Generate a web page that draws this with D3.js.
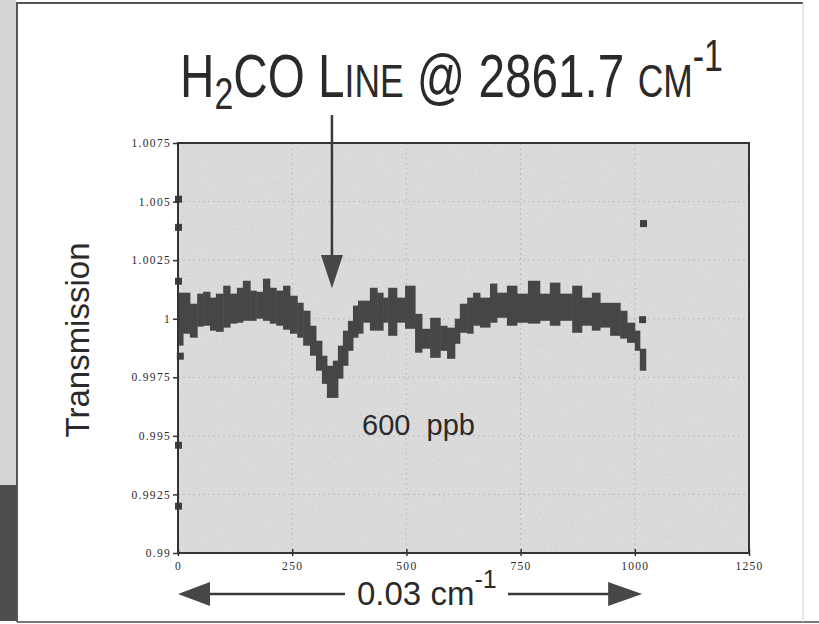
<!DOCTYPE html>
<html lang="en">
<head>
<meta charset="UTF-8">
<title>H2CO line transmission</title>
<script src="https://d3js.org/d3.v7.min.js"></script>
<style>
  body { margin: 0; background: #fff; }
  svg { display: block; }
  .tick text { font-family: "Liberation Serif", "Times New Roman", serif; font-size: 11.5px; fill: #2a2a2a; letter-spacing: 1.3px; }
  .tick line { stroke: #333; stroke-width: 1.5; }
  .big { font-family: "Liberation Sans", Arial, sans-serif; fill: #2a2a2a; }
</style>
</head>
<body>
<div id="chart"></div>
<script>
// trace: column i runs from colX[i] to colX[i+1], between colLo[i] and colHi[i]
var colX = [0, 11, 26, 42, 55, 70, 83, 99, 114, 129, 142, 158, 171, 186, 201, 215, 230, 245, 261, 274,
    289, 302, 315, 326, 339, 350, 361, 372, 383, 394, 405, 420, 436, 449, 460, 479, 497, 519, 534, 552,
    574, 589, 606, 617, 633, 646, 661, 683, 698, 720, 742, 766, 792, 814, 836, 863, 884, 906, 924, 946,
    968, 983, 1000, 1011, 1024];
var colHi = [1.00111, 1.00111, 1.00064, 1.00107, 1.00115, 1.00090, 1.00107, 1.00141, 1.00107, 1.00132,
    1.00162, 1.00120, 1.00115, 1.00171, 1.00132, 1.00120, 1.00141, 1.00098, 1.00068, 1.00034,
    0.99970, 0.99906, 0.99842, 0.99799, 0.99821, 0.99885, 0.99949, 0.99991, 1.00056, 1.00077,
    1.00077, 1.00132, 1.00111, 1.00090, 1.00132, 1.00090, 1.00141, 1.00021, 0.99957, 1.00004,
    0.99970, 0.99962, 1.00000, 1.00064, 1.00090, 1.00111, 1.00090, 1.00150, 1.00111, 1.00141,
    1.00107, 1.00162, 1.00107, 1.00154, 1.00107, 1.00141, 1.00090, 1.00111, 1.00068, 1.00068,
    1.00034, 0.99983, 0.99949, 0.99872];
var colLo = [0.99885, 0.99936, 0.99919, 0.99966, 0.99970, 0.99949, 0.99944, 0.99962, 0.99979, 0.99983,
    0.99991, 0.99991, 1.00000, 0.99991, 0.99979, 0.99970, 0.99953, 0.99936, 0.99919, 0.99885,
    0.99842, 0.99778, 0.99722, 0.99662, 0.99662, 0.99744, 0.99799, 0.99863, 0.99919, 0.99936,
    0.99983, 0.99949, 0.99949, 0.99983, 0.99927, 0.99983, 0.99957, 0.99855, 0.99872, 0.99833,
    0.99863, 0.99829, 0.99893, 0.99940, 0.99936, 0.99970, 0.99962, 0.99983, 1.00004, 0.99970,
    0.99983, 0.99979, 0.99991, 0.99970, 0.99991, 0.99940, 0.99970, 0.99949, 0.99962, 0.99927,
    0.99915, 0.99897, 0.99863, 0.99778];
// lone points away from the trace
var strayX = [0, 0, 0, 0, 0, 4, 1016, 1018];
var strayY = [1.0051, 1.0039, 1.0016, 0.9946, 0.9920, 0.9984, 0.99996, 1.00406];

var xTicks = [0, 250, 500, 750, 1000, 1250];
var yTicks = [0.99, 0.9925, 0.995, 0.9975, 1, 1.0025, 1.005, 1.0075];
var yTickLabels = ["0.99", "0.9925", "0.995", "0.9975", "1", "1.0025", "1.005", "1.0075"];

var W = 819, H = 624;
var pL = 178, pR = 749, pT = 143, pB = 553;

var svg = d3.select('#chart').append('svg')
    .attr('width', W)
    .attr('height', H);

// grain of the scanned plot area
var f = svg.append('defs').append('filter').attr('id', 'grain')
    .attr('x', 0).attr('y', 0).attr('width', 1).attr('height', 1);
f.append('feTurbulence').attr('type', 'fractalNoise').attr('baseFrequency', 0.9)
    .attr('numOctaves', 2).attr('seed', 3).attr('result', 'n');
f.append('feColorMatrix').attr('in', 'n').attr('type', 'matrix')
    .attr('values', '0 0 0 0 0.45  0 0 0 0 0.45  0 0 0 0 0.45  0 0 0 -1.6 1.05').attr('result', 'g');
f.append('feComposite').attr('in', 'g').attr('in2', 'SourceGraphic').attr('operator', 'in');

// scan edges
svg.append('rect').attr('x', 0).attr('y', 0).attr('width', 16).attr('height', 485).attr('fill', '#d6d6d6');
svg.append('rect').attr('x', 0).attr('y', 485).attr('width', 16).attr('height', 136).attr('fill', '#4e4e4e');
svg.append('path')
    .attr('d', 'M17,622 L17,3 L803,3')
    .attr('fill', 'none').attr('stroke', '#555').attr('stroke-width', 2);
svg.append('line').attr('x1', 17).attr('x2', 819).attr('y1', 622).attr('y2', 622)
    .attr('stroke', '#777').attr('stroke-width', 2);
svg.append('line').attr('x1', 803).attr('x2', 803).attr('y1', 3).attr('y2', 622)
    .attr('stroke', '#ccc').attr('stroke-width', 1);

var x = d3.scaleLinear().domain([0, 1250]).range([pL, pR]);
var y = d3.scaleLinear().domain([0.99, 1.0075]).range([pB, pT]);

svg.append('rect')
    .attr('x', pL).attr('y', pT)
    .attr('width', pR - pL).attr('height', pB - pT)
    .attr('fill', '#dedede');
svg.append('rect')
    .attr('x', pL).attr('y', pT)
    .attr('width', pR - pL).attr('height', pB - pT)
    .attr('fill', '#000')
    .attr('filter', 'url(#grain)')
    .attr('opacity', 0.35);

// faint grid
svg.append('g').selectAll('line').data(xTicks.slice(1, -1)).enter().append('line')
    .attr('x1', function (d) { return x(d); }).attr('x2', function (d) { return x(d); })
    .attr('y1', pT).attr('y2', pB)
    .attr('stroke', '#bdbdbd').attr('stroke-dasharray', '2,3');
svg.append('g').selectAll('line').data(yTicks.slice(1, -1)).enter().append('line')
    .attr('x1', pL).attr('x2', pR)
    .attr('y1', function (d) { return y(d); }).attr('y2', function (d) { return y(d); })
    .attr('stroke', '#bdbdbd').attr('stroke-dasharray', '2,3');

var band = colHi.map(function (hi, i) {
    return { x0: colX[i], x1: colX[i + 1], hi: hi, lo: colLo[i] };
});

svg.append('g').selectAll('rect')
    .data(band)
    .enter()
    .append('rect')
    .attr('x', function (d) { return x(d.x0); })
    .attr('y', function (d) { return y(d.hi); })
    .attr('width', function (d) { return x(d.x1) - x(d.x0) + 0.5; })
    .attr('height', function (d) { return y(d.lo) - y(d.hi); })
    .attr('fill', '#464646');

svg.append('g').selectAll('rect')
    .data(strayX)
    .enter()
    .append('rect')
    .attr('x', function (d) { return x(d) - 3; })
    .attr('y', function (d, i) { return y(strayY[i]) - 3.5; })
    .attr('width', 7)
    .attr('height', 7)
    .attr('fill', '#404040');

// frame
svg.append('rect')
    .attr('x', pL).attr('y', pT)
    .attr('width', pR - pL).attr('height', pB - pT)
    .attr('fill', 'none').attr('stroke', '#333').attr('stroke-width', 2);

var yAxis = svg.append('g')
    .attr('transform', 'translate(' + pL + ',0)')
    .call(d3.axisLeft(y).tickValues(yTicks)
        .tickFormat(function (d, i) { return yTickLabels[i]; })
        .tickSize(5).tickPadding(2));
yAxis.select('.domain').remove();

var xAxis = svg.append('g')
    .attr('transform', 'translate(0,' + pB + ')')
    .call(d3.axisBottom(x).tickValues(xTicks).tickFormat(d3.format('d'))
        .tickSize(3).tickPadding(6));
xAxis.select('.domain').remove();
xAxis.selectAll('.tick line').attr('y1', -4);

function fitWidth(sel, w) {
    var b = sel.node().getBBox();
    return w / b.width;
}

// title
var title = svg.append('text').attr('class', 'big').attr('font-size', 62);
title.append('tspan').text('H');
title.append('tspan').attr('font-size', 44).attr('dy', 12).text('2');
title.append('tspan').attr('dy', -12).text('CO L');
title.append('tspan').attr('font-size', 46).text('INE');
title.append('tspan').text(' @ 2861.7 ');
title.append('tspan').attr('font-size', 46).text('CM');
title.append('tspan').attr('font-size', 44).attr('dy', -26).text('-1');
var k = fitWidth(title, 543);
title.attr('transform', 'translate(180,97) scale(' + k + ',1)');

// pointer to the absorption line
var ax = x(337);
svg.append('line')
    .attr('x1', ax).attr('x2', ax)
    .attr('y1', 115).attr('y2', 258)
    .attr('stroke', '#3a3a3a').attr('stroke-width', 2.5);
svg.append('path')
    .attr('d', 'M' + (ax - 11) + ',255 L' + (ax + 11) + ',255 L' + ax + ',' + y(1.0013) + 'Z')
    .attr('fill', '#474747');

svg.append('text').attr('class', 'big')
    .attr('x', 362).attr('y', 435)
    .attr('font-size', 29)
    .style('white-space', 'pre')
    .text('600  ppb');

svg.append('text').attr('class', 'big')
    .attr('font-size', 33)
    .attr('text-anchor', 'middle')
    .attr('transform', 'translate(89,340) rotate(-90)')
    .text('Transmission');

// span arrow under the axis
var ay = 594;
var span = svg.append('text').attr('class', 'big')
    .attr('x', 357).attr('y', 605)
    .attr('font-size', 33);
span.append('tspan').text('0.03 cm');
span.append('tspan').attr('font-size', 25).attr('dy', -17).text('-1');

svg.append('line').attr('x1', x(0) + 28).attr('x2', 345).attr('y1', ay).attr('y2', ay)
    .attr('stroke', '#3a3a3a').attr('stroke-width', 2.5);
svg.append('line').attr('x1', 508).attr('x2', x(1016) - 30).attr('y1', ay).attr('y2', ay)
    .attr('stroke', '#3a3a3a').attr('stroke-width', 2.5);
svg.append('path')
    .attr('d', 'M' + x(0) + ',' + ay + ' L' + (x(0) + 32) + ',' + (ay - 12) + ' L' + (x(0) + 32) + ',' + (ay + 12) + 'Z')
    .attr('fill', '#474747');
svg.append('path')
    .attr('d', 'M' + x(1016) + ',' + ay + ' L' + (x(1016) - 34) + ',' + (ay - 12) + ' L' + (x(1016) - 34) + ',' + (ay + 12) + 'Z')
    .attr('fill', '#474747');
</script>
</body>
</html>
